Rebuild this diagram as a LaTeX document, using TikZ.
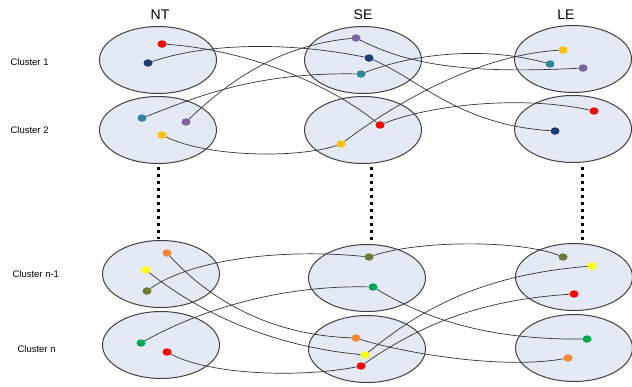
\documentclass[tikz,border=0pt]{standalone}
\usepackage{fontspec}
\setmainfont{Liberation Sans}
\usetikzlibrary{shapes.geometric}
\definecolor{cfill}{HTML}{E3EAF5}
\definecolor{cedge}{HTML}{404040}
\definecolor{dred}{HTML}{FF0000}
\definecolor{dnavy}{HTML}{1F3C6E}
\definecolor{dteal}{HTML}{31849B}
\definecolor{dpurple}{HTML}{7F62A0}
\definecolor{dgold}{HTML}{FFC000}
\definecolor{dorange}{HTML}{F08A35}
\definecolor{dyellow}{HTML}{FFFF00}
\definecolor{dolive}{HTML}{6B7A34}
\definecolor{dgreen}{HTML}{00A850}
\begin{document}
\begin{tikzpicture}[x=1pt,y=-1pt,
  cluster/.style={ellipse, draw=cedge, fill=cfill, line width=1pt, minimum width=117pt, minimum height=67pt, inner sep=0pt},
  member/.style={ellipse, fill=#1, minimum width=9pt, minimum height=7.5pt, inner sep=0pt},
  link/.style={draw=black!80, line width=0.7pt},
  vdots/.style={line width=3pt, dash pattern=on 3pt off 4pt},
  head/.style={font=\fontsize{14}{16}\selectfont},
  clab/.style={font=\fontsize{9.5}{12}\selectfont, anchor=west}]
\useasboundingbox (0,0) rectangle (632,386);
% headers
\node[head] (hNT) at (160,15) {NT};
\node[head] (hSE) at (363,15) {SE};
\node[head] (hLE) at (566,15) {LE};
% cluster labels
\node[clab] (c1) at (7,62) {Cluster 1};
\node[clab] (c2) at (7,130) {Cluster 2};
\node[clab] (c3) at (9,274) {Cluster n-1};
\node[clab] (c4) at (14,349) {Cluster n};
% ellipses
\node[cluster] (nt1) at (158,60) {};
\node[cluster] (nt2) at (158,130) {};
\node[cluster] (nt3) at (161,274) {};
\node[cluster] (nt4) at (161,345) {};
\node[cluster] (se1) at (363,60) {};
\node[cluster] (se2) at (363,130) {};
\node[cluster] (se3) at (367,278) {};
\node[cluster] (se4) at (367,349) {};
\node[cluster] (le1) at (573,59) {};
\node[cluster] (le2) at (573,129) {};
\node[cluster] (le3) at (574,277) {};
\node[cluster] (le4) at (574,348) {};
% vertical dotted
\coordinate (d1a) at (158,167); \coordinate (d1b) at (158,239);
\coordinate (d2a) at (371,167); \coordinate (d2b) at (371,241);
\coordinate (d3a) at (582,167); \coordinate (d3b) at (582,241);
\draw[vdots] (d1a) -- (d1b);
\draw[vdots] (d2a) -- (d2b);
\draw[vdots] (d3a) -- (d3b);
% members row 1/2
\node[member=dred] (a1) at (162,44) {};
\node[member=dnavy] (a2) at (148,63) {};
\node[member=dteal] (a3) at (142,118) {};
\node[member=dpurple] (a4) at (186,122) {};
\node[member=dgold] (a5) at (162,135) {};
\node[member=dpurple] (b4) at (356,38) {};
\node[member=dnavy] (b2) at (369,58) {};
\node[member=dteal] (b3) at (361,74) {};
\node[member=dred] (b1) at (380,125) {};
\node[member=dgold] (b5) at (341,144) {};
\node[member=dgold] (e5) at (563,50) {};
\node[member=dteal] (e3) at (550,64) {};
\node[member=dpurple] (e4) at (583,68) {};
\node[member=dred] (e1) at (594,111) {};
\node[member=dnavy] (e2) at (555,131) {};
% members row n-1/n
\node[member=dorange] (p1) at (167,253) {};
\node[member=dyellow] (p2) at (146,270) {};
\node[member=dolive] (p3) at (147,291) {};
\node[member=dgreen] (p4) at (141,343) {};
\node[member=dred] (p5) at (167,352) {};
\node[member=dolive] (q3) at (369,257) {};
\node[member=dgreen] (q4) at (373,287) {};
\node[member=dorange] (q1) at (356,338) {};
\node[member=dyellow] (q2) at (365,355) {};
\node[member=dred] (q5) at (361,366) {};
\node[member=dolive] (r3) at (563,257) {};
\node[member=dyellow] (r2) at (592,266) {};
\node[member=dred] (r5) at (574,294) {};
\node[member=dgreen] (r4) at (587,339) {};
\node[member=dorange] (r1) at (568,358) {};
% links top
\draw[link] (a1) .. controls (250,50) and (330,85) .. (b1);
\draw[link] (a2) .. controls (200,45) and (280,40) .. (b2);
\draw[link] (a3) .. controls (190,100) and (250,72) .. (b3);
\draw[link] (a4) .. controls (230,80) and (280,45) .. (b4);
\draw[link] (a5) .. controls (210,158) and (300,158) .. (b5);
\draw[link] (b2) .. controls (420,80) and (460,125) .. (e2);
\draw[link] (b4) .. controls (400,60) and (450,75) .. (e4);
\draw[link] (b3) .. controls (410,55) and (480,45) .. (e3);
\draw[link] (b5) .. controls (400,100) and (480,55) .. (e5);
\draw[link] (b1) .. controls (430,105) and (520,95) .. (e1);
% links bottom
\draw[link] (p1) .. controls (210,300) and (270,335) .. (q1);
\draw[link] (p2) .. controls (190,305) and (260,345) .. (q2);
\draw[link] (p3) .. controls (190,260) and (280,248) .. (q3);
\draw[link] (p4) .. controls (200,310) and (280,285) .. (q4);
\draw[link] (p5) .. controls (210,375) and (300,378) .. (q5);
\draw[link] (q3) .. controls (420,240) and (520,240) .. (r3);
\draw[link] (q4) .. controls (420,315) and (480,340) .. (r4);
\draw[link] (q1) .. controls (400,352) and (500,370) .. (r1);
\draw[link] (q2) .. controls (420,310) and (480,275) .. (r2);
\draw[link] (q5) .. controls (420,325) and (480,300) .. (r5);
\end{tikzpicture}
\end{document}
